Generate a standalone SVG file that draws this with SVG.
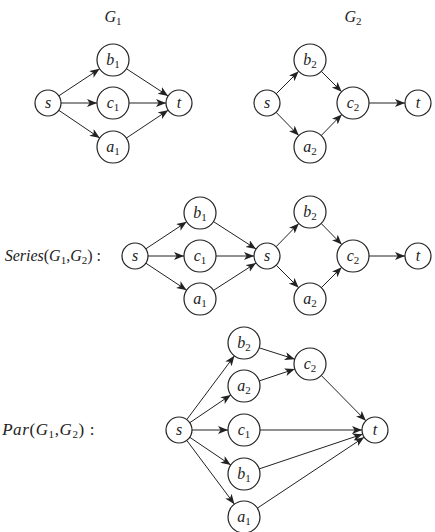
<svg xmlns="http://www.w3.org/2000/svg" width="435" height="532" viewBox="0 0 435 532">
<style>
.n circle{fill:#fff;stroke:#222;stroke-width:1.2}
.n text,.lbl{font-family:"Liberation Serif","DejaVu Serif",serif;font-size:16px;font-style:italic;fill:#222}
.n text{text-anchor:middle}
.big{font-size:17px;letter-spacing:0.6px}
.sub{font-style:normal;font-size:11px}
.up{font-style:normal}
.e line{stroke:#222;stroke-width:1;marker-end:url(#ah)}
</style>
<defs>
<marker id="ah" markerUnits="userSpaceOnUse" markerWidth="11" markerHeight="9" refX="10" refY="4" orient="auto" viewBox="0 0 11 9">
<path d="M0,0 L10,4 L0,8 L2.6,4 Z" fill="#222"/>
</marker>
</defs>
<rect width="435" height="532" fill="#fff"/>

<text class="lbl" x="113" y="22" text-anchor="middle">G<tspan class="sub" dy="3">1</tspan></text>
<text class="lbl" x="353" y="22" text-anchor="middle">G<tspan class="sub" dy="3">2</tspan></text>
<text class="lbl" x="101" y="261" text-anchor="end">Series<tspan class="up">(</tspan>G<tspan class="sub" dy="3">1</tspan><tspan class="up" dy="-3">,</tspan>G<tspan class="sub" dy="3">2</tspan><tspan class="up" dy="-3">) :</tspan></text>
<text class="lbl big" x="95" y="435" text-anchor="end">Par<tspan class="up">(</tspan>G<tspan class="sub" dy="3">1</tspan><tspan class="up" dy="-3">,</tspan>G<tspan class="sub" dy="3">2</tspan><tspan class="up" dy="-3">) :</tspan></text>

<g id="edges" class="e">
<line x1="58.84" y1="95.82" x2="99.66" y2="68.83"/>
<line x1="61" y1="103" x2="97" y2="103"/>
<line x1="58.77" y1="110.29" x2="99.75" y2="138.03"/>
<line x1="126.41" y1="68.73" x2="168.11" y2="95.9"/>
<line x1="129" y1="103" x2="166" y2="103"/>
<line x1="126.31" y1="138.12" x2="168.18" y2="110.21"/>

<line x1="276.19" y1="93.81" x2="298.69" y2="71.31"/>
<line x1="276.09" y1="112.3" x2="298.82" y2="135.56"/>
<line x1="321.31" y1="71.31" x2="341.69" y2="91.69"/>
<line x1="321.18" y1="135.56" x2="341.82" y2="114.44"/>
<line x1="369" y1="103" x2="405" y2="103"/>

<line x1="145.84" y1="248.82" x2="186.66" y2="221.83"/>
<line x1="148" y1="256" x2="184" y2="256"/>
<line x1="145.84" y1="263.18" x2="186.66" y2="290.17"/>
<line x1="213.47" y1="221.64" x2="256.06" y2="248.98"/>
<line x1="216" y1="256" x2="254" y2="256"/>
<line x1="213.47" y1="290.36" x2="256.06" y2="263.02"/>
<line x1="276.09" y1="246.7" x2="298.82" y2="223.44"/>
<line x1="276.19" y1="265.19" x2="298.69" y2="287.69"/>
<line x1="321.18" y1="223.44" x2="341.82" y2="244.56"/>
<line x1="321.31" y1="287.69" x2="341.69" y2="267.31"/>
<line x1="369" y1="256" x2="405" y2="256"/>

<line x1="186.78" y1="419.59" x2="234.42" y2="355.82"/>
<line x1="189.77" y1="422.71" x2="230.75" y2="394.97"/>
<line x1="192" y1="430" x2="228" y2="430"/>
<line x1="189.77" y1="437.29" x2="230.75" y2="465.03"/>
<line x1="186.78" y1="440.41" x2="234.42" y2="504.18"/>
<line x1="259.25" y1="347.85" x2="294.75" y2="359.15"/>
<line x1="259.18" y1="380.94" x2="294.82" y2="369.06"/>
<line x1="321.23" y1="375.4" x2="365.88" y2="420.74"/>
<line x1="260" y1="430" x2="362" y2="430"/>
<line x1="259.17" y1="468.91" x2="362.68" y2="434.14"/>
<line x1="257.33" y1="508.15" x2="364.17" y2="437.19"/>
</g>

<g id="g1_s" class="n"><circle cx="48" cy="103" r="13"/><text x="48" y="108">s</text></g>
<g id="g1_b1" class="n"><circle cx="113" cy="60" r="16"/><text x="113" y="65">b<tspan class="sub" dy="3">1</tspan></text></g>
<g id="g1_c1" class="n"><circle cx="113" cy="103" r="16"/><text x="113" y="108">c<tspan class="sub" dy="3">1</tspan></text></g>
<g id="g1_a1" class="n"><circle cx="113" cy="147" r="16"/><text x="113" y="152">a<tspan class="sub" dy="3">1</tspan></text></g>
<g id="g1_t" class="n"><circle cx="179" cy="103" r="13"/><text x="179" y="108">t</text></g>

<g id="g2_s" class="n"><circle cx="267" cy="103" r="13"/><text x="267" y="108">s</text></g>
<g id="g2_b2" class="n"><circle cx="310" cy="60" r="16"/><text x="310" y="65">b<tspan class="sub" dy="3">2</tspan></text></g>
<g id="g2_c2" class="n"><circle cx="353" cy="103" r="16"/><text x="353" y="108">c<tspan class="sub" dy="3">2</tspan></text></g>
<g id="g2_a2" class="n"><circle cx="310" cy="147" r="16"/><text x="310" y="152">a<tspan class="sub" dy="3">2</tspan></text></g>
<g id="g2_t" class="n"><circle cx="418" cy="103" r="13"/><text x="418" y="108">t</text></g>

<g id="se_s" class="n"><circle cx="135" cy="256" r="13"/><text x="135" y="261">s</text></g>
<g id="se_b1" class="n"><circle cx="200" cy="213" r="16"/><text x="200" y="218">b<tspan class="sub" dy="3">1</tspan></text></g>
<g id="se_c1" class="n"><circle cx="200" cy="256" r="16"/><text x="200" y="261">c<tspan class="sub" dy="3">1</tspan></text></g>
<g id="se_a1" class="n"><circle cx="200" cy="299" r="16"/><text x="200" y="304">a<tspan class="sub" dy="3">1</tspan></text></g>
<g id="se_s2" class="n"><circle cx="267" cy="256" r="13"/><text x="267" y="261">s</text></g>
<g id="se_b2" class="n"><circle cx="310" cy="212" r="16"/><text x="310" y="217">b<tspan class="sub" dy="3">2</tspan></text></g>
<g id="se_c2" class="n"><circle cx="353" cy="256" r="16"/><text x="353" y="261">c<tspan class="sub" dy="3">2</tspan></text></g>
<g id="se_a2" class="n"><circle cx="310" cy="299" r="16"/><text x="310" y="304">a<tspan class="sub" dy="3">2</tspan></text></g>
<g id="se_t" class="n"><circle cx="418" cy="256" r="13"/><text x="418" y="261">t</text></g>

<g id="pa_s" class="n"><circle cx="179" cy="430" r="13"/><text x="179" y="435">s</text></g>
<g id="pa_b2" class="n"><circle cx="244" cy="343" r="16"/><text x="244" y="348">b<tspan class="sub" dy="3">2</tspan></text></g>
<g id="pa_a2" class="n"><circle cx="244" cy="386" r="16"/><text x="244" y="391">a<tspan class="sub" dy="3">2</tspan></text></g>
<g id="pa_c1" class="n"><circle cx="244" cy="430" r="16"/><text x="244" y="435">c<tspan class="sub" dy="3">1</tspan></text></g>
<g id="pa_b1" class="n"><circle cx="244" cy="474" r="16"/><text x="244" y="479">b<tspan class="sub" dy="3">1</tspan></text></g>
<g id="pa_a1" class="n"><circle cx="244" cy="517" r="16"/><text x="244" y="522">a<tspan class="sub" dy="3">1</tspan></text></g>
<g id="pa_c2" class="n"><circle cx="310" cy="364" r="16"/><text x="310" y="369">c<tspan class="sub" dy="3">2</tspan></text></g>
<g id="pa_t" class="n"><circle cx="375" cy="430" r="13"/><text x="375" y="435">t</text></g>
</svg>
